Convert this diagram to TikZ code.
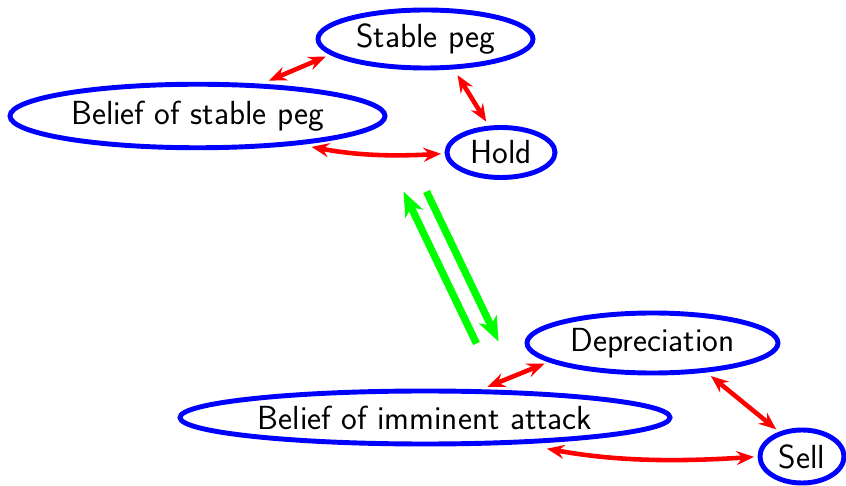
\documentclass[tikz,border=0pt]{standalone}
\usepackage{xcolor}
\usepackage{tikz}
\usetikzlibrary{arrows.meta,shapes.geometric}
\definecolor{StateBlue}{HTML}{0000FF}
\definecolor{LinkRed}{HTML}{FF0000}
\definecolor{RegimeGreen}{HTML}{00FF00}

\begin{document}
\begin{tikzpicture}[x=1cm,y=1cm,
  statenode/.style={ellipse,draw=StateBlue,line width=2.8pt,inner sep=0pt,outer sep=0pt,font=\sffamily\fontsize{19pt}{23pt}\selectfont},
  redlink/.style={LinkRed,line width=2.6pt,>={Stealth[length=10pt,width=8pt,inset=3.5pt]},<->},
  regime/.style={RegimeGreen,line width=4.2pt,-{Stealth[length=14pt,width=11pt,inset=4pt]}}]
\path[use as bounding box] (0,0) rectangle (16.92,9.70);
\node[statenode,minimum width=4.30cm,minimum height=1.16cm] (sp) at (8.51,8.92) {Stable peg};
\node[statenode,minimum width=7.50cm,minimum height=1.27cm] (bsp) at (3.95,7.38) {Belief of stable peg};
\node[statenode,minimum width=2.16cm,minimum height=1.00cm] (hold) at (10.02,6.65) {Hold};
\node[statenode,minimum width=5.02cm,minimum height=1.20cm] (dep) at (13.05,2.84) {Depreciation};
\node[statenode,minimum width=9.80cm,minimum height=1.06cm] (bia) at (8.50,1.35) {Belief of imminent attack};
\node[statenode,minimum width=1.68cm,minimum height=1.06cm] (sell) at (16.04,0.57) {Sell};
\draw[redlink,shorten <=0.15cm,shorten >=0.27cm] (sp.189) -- (bsp.27);
\draw[redlink,shorten <=0.19cm,shorten >=0.15cm] (sp.314) -- (hold.114);
\draw[redlink,shorten <=0.38cm,shorten >=0.12cm] (bsp.344) to[bend right=7] (hold.181);
\draw[redlink,shorten <=0.15cm,shorten >=0.25cm] (dep.190) -- (bia.27);
\draw[redlink,shorten <=0.18cm,shorten >=0.13cm] (dep.332) -- (sell.132);
\draw[redlink,shorten <=0.72cm,shorten >=0.12cm] (bia.344) to[bend right=7] (sell.180);
\coordinate (uptail) at (9.53,2.83);
\coordinate (uphead) at (8.07,5.87);
\coordinate (downtail) at (8.53,5.87);
\coordinate (downhead) at (9.97,2.87);
\draw[regime] (uptail) -- (uphead);
\draw[regime] (downtail) -- (downhead);
\end{tikzpicture}
\end{document}
